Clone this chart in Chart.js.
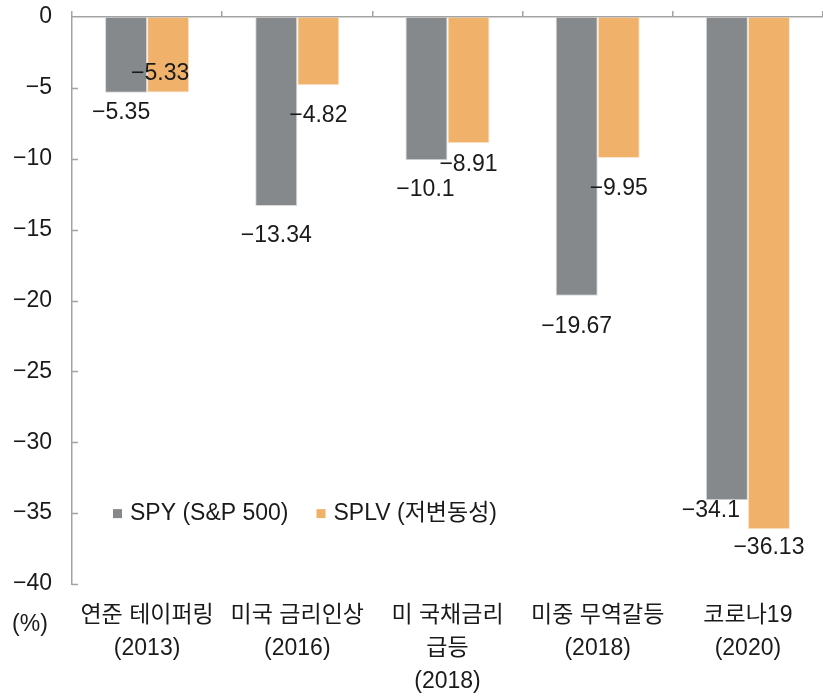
<!DOCTYPE html>
<html>
<head>
<meta charset="utf-8">
<script src="https://cdn.jsdelivr.net/npm/chart.js@4"></script>
<style>
  body { margin: 0; background: #fff; }
  #wrap { width: 823px; height: 696px; position: relative; }
</style>
</head>
<body>
<div id="wrap"><canvas id="chart"></canvas></div>
<script>
const categories = [
    ["연준 테이퍼링", "(2013)"],
    ["미국 금리인상", "(2016)"],
    ["미 국채금리", "급등", "(2018)"],
    ["미중 무역갈등", "(2018)"],
    ["코로나19", "(2020)"],
];
const spyValues = [-5.35, -13.34, -10.1, -19.67, -34.1];
const splvValues = [-5.33, -4.82, -8.91, -9.95, -36.13];
const seriesNames = ["SPY (S&P 500)", "SPLV (저변동성)"];
const yMin = -40;
const yMax = 0;
const yStep = 5;

// label nudges (px) from bar end, like the hand-placed labels in the original
const labelNudge = [
    [[-5, 20], [0, 30], [-1, 29], [0, 31], [-16, 10]],
    [[-8, -19], [0, 30], [0, 21], [0, 31], [0, 19]],
];

const FONT = "'Liberation Sans', 'Noto Sans CJK KR', sans-serif";
const FSIZE = 23;
const AXIS = "#a3a3a3";
const TEXT = "#1a1a1a";
const colors = ["#86898b", "#f0b26a"];

const fmt = (v) => String(v).replace("-", "\u2212");

const overlay = {
    id: "overlay",
    afterDatasetsDraw(chart) {
        const ctx = chart.ctx;
        const area = chart.chartArea;
        const y = chart.scales.y;
        ctx.save();

        // inward tick marks on the y axis
        ctx.strokeStyle = AXIS;
        ctx.lineWidth = 1.5;
        for (let v = yMin; v < yMax; v += yStep) {
            const py = Math.round(y.getPixelForValue(v)) + 0.5;
            ctx.beginPath();
            ctx.moveTo(area.left, py);
            ctx.lineTo(area.left + 6, py);
            ctx.stroke();
        }

        // value labels
        ctx.font = FSIZE + "px " + FONT;
        ctx.fillStyle = TEXT;
        ctx.textAlign = "center";
        ctx.textBaseline = "middle";
        chart.data.datasets.forEach((ds, di) => {
            const meta = chart.getDatasetMeta(di);
            meta.data.forEach((bar, i) => {
                const [dx, dy] = labelNudge[di][i];
                ctx.fillText(fmt(ds.data[i]), bar.x + dx, bar.y + dy);
            });
        });

        // legend, sitting on the -35 line
        const ly = y.getPixelForValue(-35);
        let lx = area.left + 41;
        ctx.textAlign = "left";
        chart.data.datasets.forEach((ds, di) => {
            ctx.fillStyle = ds.backgroundColor;
            ctx.fillRect(lx, ly - 4, 9, 9);
            ctx.fillStyle = TEXT;
            ctx.fillText(ds.label, lx + 17, ly + 1);
            lx += 17 + ctx.measureText(ds.label).width + 28;
        });

        // unit
        ctx.textAlign = "center";
        ctx.fillText("(%)", area.left - 42, area.bottom + 41);
        ctx.restore();
    },
};

new Chart(document.getElementById("chart"), {
    type: "bar",
    data: {
        labels: categories,
        datasets: [
            {
                label: seriesNames[0],
                data: spyValues,
                backgroundColor: colors[0],
                borderColor: "#d9d9d9",
                borderWidth: 1,
            },
            {
                label: seriesNames[1],
                data: splvValues,
                backgroundColor: colors[1],
                borderColor: "#fbe6cc",
                borderWidth: 1,
            },
        ],
    },
    options: {
        responsive: true,
        maintainAspectRatio: false,
        animation: false,
        layout: { padding: 0 },
        datasets: {
            bar: { categoryPercentage: 0.56, barPercentage: 1 },
        },
        plugins: {
            legend: { display: false },
            tooltip: { enabled: false },
        },
        scales: {
            x: {
                position: "top",
                offset: true,
                grid: {
                    offset: true,
                    drawOnChartArea: false,
                    tickLength: 6,
                    color: AXIS,
                    lineWidth: 1.5,
                },
                border: { color: AXIS, width: 1.5 },
                ticks: { display: false },
                afterFit: (scale) => { scale.height = 17; },
            },
            x2: {
                type: "category",
                position: "bottom",
                labels: categories,
                offset: true,
                grid: { display: false, drawTicks: false },
                border: { display: false },
                ticks: {
                    color: TEXT,
                    padding: 15,
                    maxRotation: 0,
                    autoSkip: false,
                    font: { family: FONT, size: FSIZE, lineHeight: 33 / FSIZE },
                },
                afterFit: (scale) => { scale.height = 112; },
            },
            y: {
                min: yMin,
                max: yMax,
                grid: { drawOnChartArea: false, drawTicks: false },
                border: { color: AXIS, width: 1.5 },
                ticks: {
                    stepSize: yStep,
                    color: TEXT,
                    padding: 20,
                    font: { family: FONT, size: FSIZE },
                    callback: (v) => fmt(v),
                },
                afterFit: (scale) => {
                    scale.width = 72;
                    scale.paddingTop = 0;
                    scale.paddingBottom = 0;
                },
            },
        },
    },
    plugins: [overlay],
});
</script>
</body>
</html>
